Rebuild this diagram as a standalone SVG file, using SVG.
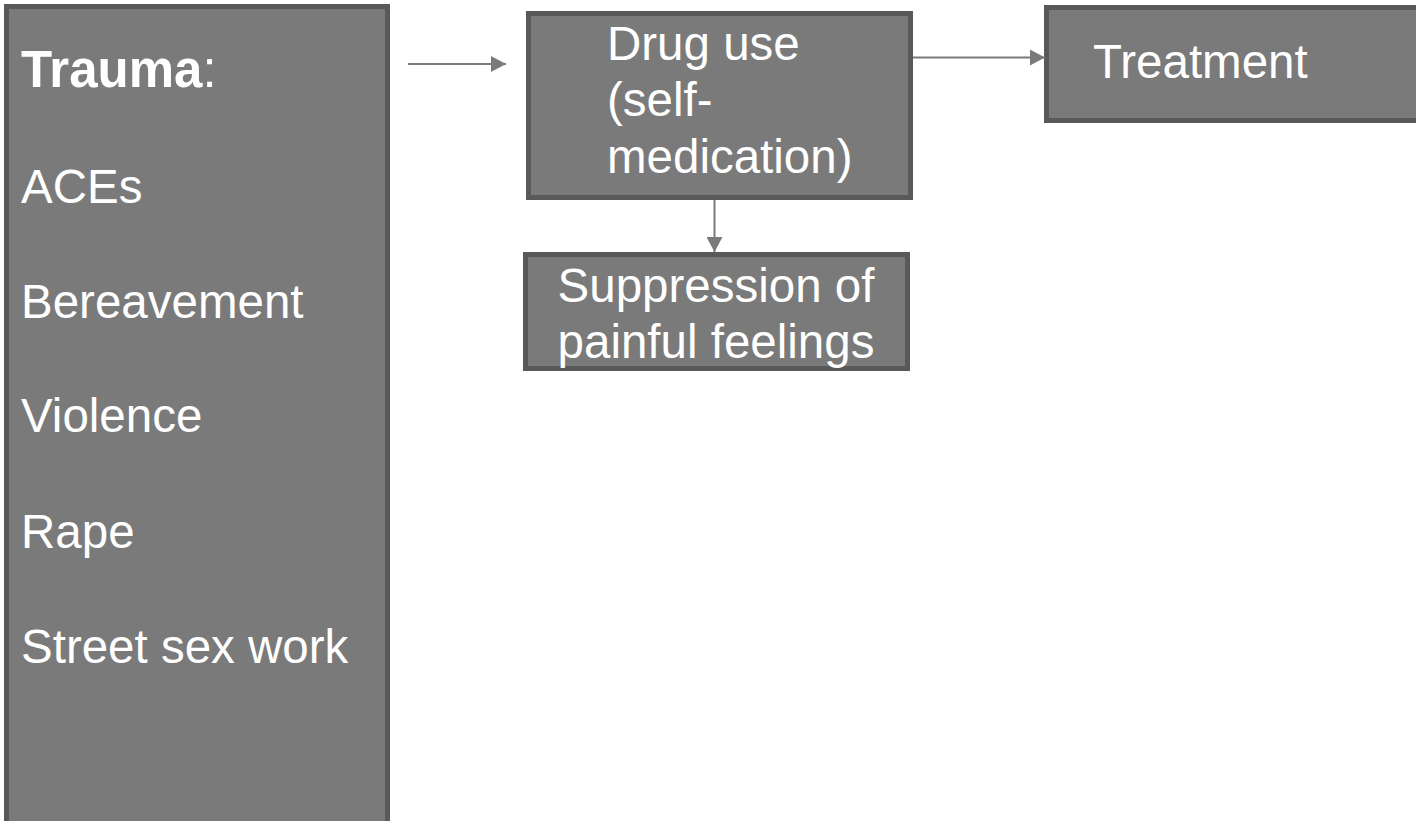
<svg xmlns="http://www.w3.org/2000/svg" width="1416" height="821" viewBox="0 0 1416 821">
<style>
.box{fill:#7a7a7a;stroke:#595959;stroke-width:5}
.t{font-family:"Liberation Sans",Arial,sans-serif;font-size:47.5px;fill:#ffffff}
.c{stroke:#7a7a7a;stroke-width:2;fill:none}
</style>
<defs>
<marker id="ah" markerWidth="15" markerHeight="16" refX="15" refY="8" orient="auto" markerUnits="userSpaceOnUse">
<path d="M0,0 L15,8 L0,16 Z" fill="#7a7a7a"/>
</marker>
</defs>
<rect width="1416" height="821" fill="#ffffff"/>
<g id="trauma">
<rect class="box" x="6.5" y="6.5" width="381" height="830"/>
<text class="t" x="21" y="87" style="font-size:51px"><tspan font-weight="bold">Trauma</tspan>:</text>
<text class="t" x="21" y="203">ACEs</text>
<text class="t" x="21" y="318">Bereavement</text>
<text class="t" x="21" y="432">Violence</text>
<text class="t" x="21" y="548">Rape</text>
<text class="t" x="21" y="663">Street sex work</text>
</g>
<g id="drug">
<rect class="box" x="528.5" y="13.5" width="382" height="184"/>
<text class="t" x="607" y="60">Drug use</text>
<text class="t" x="607" y="116">(self-</text>
<text class="t" x="607" y="173">medication)</text>
</g>
<g id="treatment">
<rect class="box" x="1046.5" y="7.5" width="400" height="113"/>
<text class="t" x="1093" y="78">Treatment</text>
</g>
<g id="suppression">
<rect class="box" x="525.5" y="254.5" width="382" height="114"/>
<text class="t" x="716" y="302" text-anchor="middle">Suppression of</text>
<text class="t" x="716" y="358" text-anchor="middle">painful feelings</text>
</g>
<g id="connectors">
<line class="c" x1="408" y1="64" x2="506" y2="64" marker-end="url(#ah)"/>
<line class="c" x1="913" y1="57.5" x2="1045" y2="57.5" marker-end="url(#ah)"/>
<line class="c" x1="714.5" y1="200" x2="714.5" y2="252" marker-end="url(#ah)"/>
</g>
</svg>
